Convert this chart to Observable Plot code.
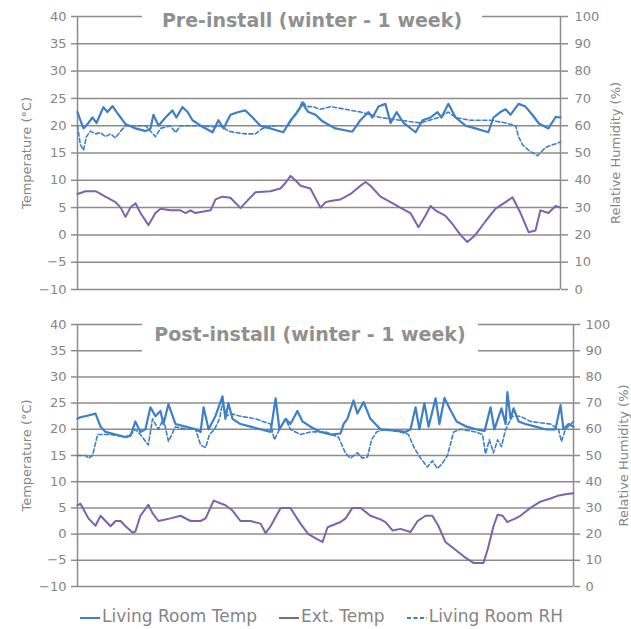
<!DOCTYPE html>
<html>
<head>
<meta charset="utf-8">
<script src="https://cdn.jsdelivr.net/npm/d3@7"></script>
<script src="https://cdn.jsdelivr.net/npm/@observablehq/plot@0.6"></script>
<style>
  html, body { margin: 0; padding: 0; background: #fff; }
  #root { position: relative; width: 631px; height: 629px; overflow: hidden; font-family: "DejaVu Sans", sans-serif; }
  .panel { position: absolute; left: 0; }
  .title { position: absolute; background: #fff; color: #909090; font-weight: bold; font-size: 19px; text-align: center; white-space: nowrap; }
  #legend { position: absolute; left: 80px; top: 608px; display: flex; align-items: center; font-size: 17px; line-height: 17px; color: #858585; white-space: nowrap; }
  #legend .item { display: flex; align-items: center; margin-right: 22px; }
  #legend svg { margin-right: 2px; }
</style>
</head>
<body>
<div id="root"></div>
<script>
// ---------- data (hours since start of the week, value) ----------
const yTicks = [-10, -5, 0, 5, 10, 15, 20, 25, 30, 35, 40];
const seriesNames = ["Living Room Temp", "Ext. Temp", "Living Room RH"];
const titles = ["Pre-install (winter - 1 week)", "Post-install (winter - 1 week)"];
const axisTitles = ["Temperature (°C)", "Relative Humidity (%)"];

// Pre-install: living room temperature (°C)
const preTempH = [0,1,2.1,3.8,5.2,6.6,9,10.4,12.2,14.3,16.7,20.2,23.7,25.4,26.4,28.2,30.6,33,34.4,36.5,38.3,40,42.8,47,49,50.8,53.2,56,58.4,60.9,63.6,67.1,71.6,74.1,75.8,78.3,80.3,82.8,85.2,89.7,95.6,98.4,101.2,102.6,104.7,107.1,108.9,111,113.4,117.6,120,122.8,125.2,126.6,129,131.5,135,138.4,142.9,144.7,147.1,148.9,150.6,153.4,155.8,158.2,160.5,163.8,166.3,168];
const preTemp  = [22.5,21,19.5,20.5,21.5,20.5,23.4,22.5,23.6,22,20.3,19.5,19,19.5,22,20,21.5,22.8,21.5,23.4,22.5,21,20,18.8,21,19.5,22,22.5,22.8,21.5,20,19.5,18.8,21,22,24,22.5,22,20.8,19.5,18.9,21,22.5,21.5,23.5,24,20.5,22.5,20.5,18.8,21,21.5,22.5,21.5,24,21.5,20,19.5,18.8,21.5,22.5,23,22,24,23.5,22,20.4,19.5,21.6,21.5];

// Pre-install: external temperature (°C)
const preExtH = [0,2.8,6.3,9.7,13.2,15,16.7,18.4,20.2,21.9,24.7,27.1,28.9,32.3,35.8,37.6,39.3,41,42.8,46.3,48,50.4,53.2,56.7,59.5,61.9,67.1,70.6,72.3,74.1,75.8,77.6,81,84.5,86.3,88,91.5,95,98.4,100.2,101.9,105.4,108.9,112.3,115.8,118.6,121,122.8,124.5,128,130.4,133.2,135.6,138.4,141.9,145.4,148.9,151.3,154.1,156.9,159.3,161,163.8,166.3,168];
const preExt  = [7.5,8,8,7,6,5,3.3,5,5.8,4,1.8,4,4.8,4.5,4.5,4,4.5,4,4.2,4.5,6.5,7,6.8,4.9,6.5,7.8,8,8.5,9.5,10.8,10,9,8.5,5,6,6.2,6.5,7.5,9,9.7,9,7,6,5,4,1.4,3.5,5.3,4.5,3.5,2,0,-1.3,0,2.5,4.8,6,6.9,4,0.5,0.8,4.5,4,5.3,5];

// Pre-install: living room relative humidity (%)
const preRhH = [0,1,2.1,3.1,4.5,6.3,8,9.7,11.5,13.2,15,16.7,20.2,23.7,25.4,27.1,28.9,32.3,34.1,35.8,42.8,48,49.7,52.5,55,58.4,61.9,64.3,68.9,73.4,74.8,76.9,78.3,79.6,81.7,84.5,88,93.2,98.4,105.4,112.3,119.3,125.5,129,131.5,136.7,143.7,148.9,152.4,153.4,154.8,156.9,160,162.8,165.2,168];
const preRh  = [60,53,51,56,58,57,57.5,56,57,55.5,58,60,60,60,58,56,59,60,57.5,60,60,59.5,60,58,57.5,57,57,59,60,60,63,66,69,67,67,66,67,66,65,63,62,61,63,65,63,62,62,61,60,56,53,51,49,52,53,54];

// Post-install: living room temperature (°C)
const postTempH = [0,1,2.7,6.1,7.8,9.5,12.9,16.3,18,19.6,21.3,23,24.7,26.4,28.1,29.1,30.8,33.2,36.6,40,41.7,42.7,44.4,46.7,49.1,50.1,51.1,52.5,55.2,58.6,62,65.4,67.1,68.4,70.5,72.1,74.5,76.2,78.9,82.3,85.7,89.1,90.1,91.4,93.5,94.8,96.9,99.2,102.6,106.7,111.1,112.8,114.5,115.8,117.5,118.9,121.3,122.6,124.3,126,128.4,131.8,135.1,137.9,139.9,141.2,143.6,145,145.6,146.7,147.7,149.4,151.7,155.1,158.5,161.9,163.6,164.6,166.3,168];
const postTemp  = [22,22.3,22.5,23,20.5,19.5,19,18.5,18.8,21.5,19.5,20,24.2,22.5,23.5,21,24.8,21,20.5,20,19.5,24.2,20,22.5,26.3,22,25,22,21,20.5,20,19.5,25.9,20,22,21,23.5,21.5,20.5,19.5,19,19.2,21,22,25.5,23,25.2,22,20,19.8,19.5,20,24.2,20,25,20.5,25.9,21,26,24,21.5,20.5,20,19.7,24.2,20,24,21,27.1,22,24,21.5,21,20.5,20,20,24.6,20,21,20.5];

// Post-install: external temperature (°C)
const postExtH = [0,1,3.7,6.1,7.8,9.5,11.2,12.9,14.6,16.3,18.6,19.6,21.3,24,25.4,27.4,31.5,34.9,38.3,41.7,43.4,46.1,50.1,52.5,55.2,58.6,62,63.7,65.4,68.8,72.1,75.5,78.2,81.3,83,84.7,89.1,90.8,93.1,95.9,99.2,102.6,104.3,106.7,109.4,112.8,115.2,117.9,120.2,122.3,124.6,128,131.4,134.1,137.5,138.9,140.9,142.3,144,145.6,148.4,150,153.4,156.8,160.2,162.6,165.3,168];
const postExt  = [5.5,5.8,3,1.6,3.5,2.5,1.5,2.5,2.5,1.5,0.3,0.5,3.5,5.6,4,2.5,3,3.5,2.5,2.5,3,6.4,5.5,4.5,2.5,2.5,2,0.2,1.5,5,5,2,0,-1,-1.5,1.3,2.3,3,5,5,3.5,2.8,2.3,0.7,1,0.4,2.5,3.5,3.5,1.5,-1.5,-3,-4.5,-5.5,-5.5,-3,1.5,3.7,3.5,2.3,3,3.5,5,6.2,6.8,7.3,7.6,7.8];

// Post-install: living room relative humidity (%)
const postRhH = [0,2.7,3.7,5.1,6.8,11.2,16.3,18,19.6,21.3,24,25.4,27.4,29.1,30.8,33.2,36.6,40,41.7,43.4,44.7,46.4,48.1,49.1,50.5,51.8,55.2,60.3,65.4,66.7,68.4,70.5,72.1,75.5,78.9,84,88.4,90.8,92.5,94.8,96.5,98.2,99.6,101.3,104.3,109.4,112.1,114.1,116.2,118.5,120.2,121.9,123.6,125.3,127.4,129.7,134.8,137.2,138.2,139.5,140.9,142.3,143.6,145,147.3,150,153.4,160.2,162.9,163.9,165.3,168];
const postRh  = [50,50,49,50,58,58,57,58,60,58,54,64,60,64,55.4,61,60,60,54,53,58,60,64,70,65,66,65,64,62,56,60,64,60,58,59,59,57,50.8,49,51,49,49.4,56,59,60,59,58,52.8,49,45.6,48,45,47,50,59,60,59,58,50.6,56,51,56,53.4,60,65,65,63,62,60,55.4,60,63];

// ---------- drawing ----------
const BLUE = "#3d7fc8", PURPLE = "#7d62ad", GRID = "#8c8c8c", TEXT = "#858585";
const pts = (hs, vs) => hs.map((h, i) => ({h, v: vs[i]}));

function panel(o) {
  return Plot.plot({
    width: 631, height: o.height,
    marginLeft: 77, marginRight: o.marginRight, marginTop: o.marginTop, marginBottom: o.marginBottom,
    x: {domain: [0, 168], axis: null},
    y: {domain: [-10, 40], axis: null},
    style: {fontFamily: "DejaVu Sans, sans-serif", fontSize: "13px", color: TEXT, background: "transparent", overflow: "visible"},
    marks: [
      Plot.ruleY(yTicks, {stroke: GRID, strokeWidth: 1.5}),
      Plot.ruleX([0, 168], {stroke: GRID, strokeWidth: 1.5}),
      Plot.axisY({anchor: "left", ticks: yTicks, tickSize: 6, tickPadding: 5, stroke: GRID, strokeWidth: 1.5, label: null}),
      Plot.axisY({anchor: "right", ticks: yTicks, tickFormat: d => (d + 10) * 2, tickSize: o.tickR, tickPadding: o.padR, stroke: GRID, strokeWidth: 1.5, label: null}),
      Plot.text([axisTitles[0]], {frameAnchor: "left", text: d => d, rotate: -90, dx: -51, textAnchor: "middle", lineAnchor: "middle", fill: TEXT, fontSize: 13}),
      Plot.text([axisTitles[1]], {frameAnchor: "right", text: d => d, rotate: -90, dx: o.labelR, textAnchor: "middle", lineAnchor: "middle", fill: TEXT, fontSize: 13}),
      Plot.line(pts(o.extH, o.ext), {x: "h", y: "v", stroke: PURPLE, strokeWidth: 2}),
      Plot.line(pts(o.rhH, o.rh), {x: "h", y: d => d.v / 2 - 10, stroke: BLUE, strokeWidth: 1.6, strokeDasharray: "4,2.5"}),
      Plot.line(pts(o.tempH, o.temp), {x: "h", y: "v", stroke: BLUE, strokeWidth: 2.2})
    ]
  });
}

const root = document.getElementById("root");

const top1 = panel({height: 300, marginTop: 16, marginBottom: 11, marginRight: 71, tickR: 7, padR: 7, labelR: 55,
  tempH: preTempH, temp: preTemp, extH: preExtH, ext: preExt, rhH: preRhH, rh: preRh});
const wrap1 = document.createElement("div"); wrap1.className = "panel"; wrap1.style.top = "0px"; wrap1.appendChild(top1); root.appendChild(wrap1);

const bot = panel({height: 300, marginTop: 24, marginBottom: 14, marginRight: 58, tickR: 6, padR: 6, labelR: 50,
  tempH: postTempH, temp: postTemp, extH: postExtH, ext: postExt, rhH: postRhH, rh: postRh});
const wrap2 = document.createElement("div"); wrap2.className = "panel"; wrap2.style.top = "300px"; wrap2.appendChild(bot); root.appendChild(wrap2);

// titles (white box masks the gridlines behind, as in the original)
const t1 = document.createElement("div"); t1.className = "title";
Object.assign(t1.style, {left: "142px", width: "340px", top: "6px", height: "28px", lineHeight: "28px"});
t1.textContent = titles[0]; root.appendChild(t1);
const t2 = document.createElement("div"); t2.className = "title";
Object.assign(t2.style, {left: "142px", width: "336px", top: "316px", height: "36px", lineHeight: "36px"});
t2.textContent = titles[1]; root.appendChild(t2);

// legend
const legend = document.createElement("div"); legend.id = "legend";
const styles = [{c: BLUE, d: null}, {c: PURPLE, d: null}, {c: BLUE, d: "4,2.5"}];
seriesNames.forEach((name, i) => {
  const it = document.createElement("div"); it.className = "item";
  it.innerHTML = `<svg width="20" height="10"><line x1="0" x2="20" y1="6" y2="6" stroke="${styles[i].c}" stroke-width="2" ${styles[i].d ? `stroke-dasharray="${styles[i].d}"` : ""}/></svg><span>${name}</span>`;
  legend.appendChild(it);
});
root.appendChild(legend);
</script>
</body>
</html>
